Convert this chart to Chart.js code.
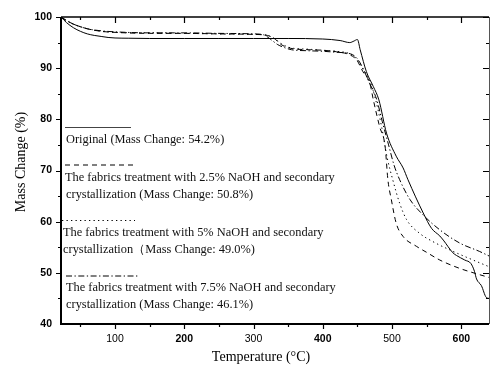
<!DOCTYPE html>
<html>
<head>
<meta charset="utf-8">
<script src="https://cdn.jsdelivr.net/npm/chart.js@4/dist/chart.umd.min.js"></script>
<style>
html,body{margin:0;padding:0;background:#fff;}
#wrap{width:490px;height:366px;position:relative;}
</style>
</head>
<body>
<div id="wrap"><canvas id="c" width="490" height="366"></canvas></div>
<script>
// ---- data (temperature in °C, mass in %) ----
const tOriginal = [22,30,40,50,60,70,80,90,100,120,150,200,250,300,350,400,425,439,445,450,454,463,473,481,492,506,516,523,545,557,569,574,588,593,605,614,619,622,629,636,640];
const mOriginal = [100,98.9,97.9,97.2,96.7,96.4,96.2,96.0,95.9,95.85,95.8,95.8,95.8,95.8,95.8,95.7,95.4,95.0,95.3,95.6,93.6,89.3,86.4,83.8,77.3,72.8,70.5,68.2,61.7,58.7,57.2,56.4,53.9,53.4,52.5,51.8,50.3,48.8,47.5,45.2,45.0];

const tNaOH25 = [22,30,40,50,60,80,100,150,200,250,300,320,330,340,353,380,400,420,439,449,458,468,473,482,490,494,499,506,516,535,550,569,597,620,640];
const mNaOH25 = [100,99.3,98.6,98.1,97.7,97.2,97.0,96.8,96.8,96.7,96.6,96.4,95.8,94.6,93.9,93.6,93.5,93.2,92.6,91.6,89.3,87.0,83.8,78.6,74.7,68.2,64.3,59.7,57.1,55.2,54.0,52.5,50.9,49.9,49.1];

const tNaOH5 = [22,30,40,50,60,80,100,150,200,250,300,320,330,340,353,380,400,420,439,449,458,468,476,485,493,501,511,521,540,559,588,617,640];
const mNaOH5 = [100,99.3,98.6,98.1,97.7,97.2,97.0,96.9,96.8,96.7,96.6,96.4,95.8,94.8,94.0,93.7,93.5,93.3,92.8,91.8,89.8,87.5,84.0,78.5,72.5,68.2,63.6,60.4,57.7,56.1,54.2,52.5,51.2];

const tNaOH75 = [22,30,40,50,60,80,100,150,200,250,300,315,325,335,345,355,380,400,420,440,449,458,466,478,486,495,503,511,526,545,569,598,626,640];
const mNaOH75 = [100,99.3,98.6,98.1,97.7,97.3,97.1,96.9,96.9,96.8,96.7,96.5,95.6,94.6,94.0,93.6,93.4,93.3,93.1,92.8,92.0,90.0,87.5,83.8,79.5,75.0,71.0,68.2,64.3,61.3,58.4,55.8,54.2,53.3];

const xTicks = [100,200,300,400,500,600];
const yTicks = [40,50,60,70,80,90,100];
const legendLines = [
  ["Original (Mass Change: 54.2%)"],
  ["The fabrics treatment with 2.5% NaOH and secondary", "crystallization (Mass Change: 50.8%)"],
  ["The fabrics treatment with 5% NaOH and secondary", "crystallization\uFF08Mass Change: 49.0%)"],
  ["The fabrics treatment with 7.5% NaOH and secondary", "crystallization (Mass Change: 46.1%)"]
];
const xTitle = "Temperature (\u00B0C)";
const yTitle = "Mass Change (%)";

// ---- build ----
const pts = (t, m) => t.map((v, i) => ({x: v, y: m[i]}));
const dashes = [[], [5,4], [1.3,3.2], [6,2.5,1.3,2.5]];
const series = [pts(tOriginal,mOriginal), pts(tNaOH25,mNaOH25), pts(tNaOH5,mNaOH5), pts(tNaOH75,mNaOH75)];

const datasets = series.map((d, i) => ({
  data: d, borderColor: '#000', borderWidth: 1, borderDash: dashes[i],
  pointRadius: 0, showLine: true, fill: false, tension: 0, cubicInterpolationMode: 'monotone'
}));

const frame = {
  id: 'frame',
  afterDraw(chart) {
    const ctx = chart.ctx, a = chart.chartArea;
    const xs = chart.scales.x, ys = chart.scales.y;
    ctx.save();
    ctx.strokeStyle = '#000';
    // axes lines
    ctx.lineWidth = 2;
    ctx.beginPath();
    ctx.moveTo(a.left, a.top); ctx.lineTo(a.left, a.bottom + 1); // left
    ctx.moveTo(a.left - 1, a.bottom); ctx.lineTo(a.right, a.bottom); // bottom
    ctx.stroke();
    ctx.lineWidth = 1.5;
    ctx.beginPath();
    ctx.moveTo(a.left, a.top); ctx.lineTo(a.right, a.top);
    ctx.stroke();
    ctx.lineWidth = 1;
    ctx.strokeStyle = '#555';
    ctx.beginPath();
    ctx.moveTo(a.right + 0.5, a.top); ctx.lineTo(a.right + 0.5, a.bottom);
    ctx.stroke();
    ctx.strokeStyle = '#000';
    ctx.lineWidth = 1.2;
    ctx.beginPath();
    // x ticks (major 100, minor 50)
    for (let v = 50; v <= 640; v += 50) {
      const px = Math.round(xs.getPixelForValue(v)) + 0.5;
      const major = v % 100 === 0;
      const L = major ? 5 : 3;
      ctx.moveTo(px, a.bottom); ctx.lineTo(px, a.bottom + L);
      ctx.moveTo(px, a.top); ctx.lineTo(px, a.top + (major ? 6 : 3));
    }
    for (let v = 45; v <= 100; v += 5) {
      const py = Math.round(ys.getPixelForValue(v)) + 0.5;
      const major = v % 10 === 0;
      const L = major ? 5 : 3;
      ctx.moveTo(a.left, py); ctx.lineTo(a.left - L, py);
      ctx.moveTo(a.right, py); ctx.lineTo(a.right - (major ? 6 : 3), py);
    }
    ctx.stroke();

    // axis titles
    ctx.fillStyle = '#000';
    ctx.font = '14px "Liberation Serif", "Times New Roman", serif';
    ctx.textAlign = 'center';
    ctx.textBaseline = 'middle';
    ctx.fillText(xTitle, 261, 357);
    ctx.save();
    ctx.translate(21, 162);
    ctx.rotate(-Math.PI / 2);
    ctx.fillText(yTitle, 0, 0);
    ctx.restore();

    // legend
    const samples = [
      {x0: 65, x1: 131, y: 127.5},
      {x0: 65, x1: 137, y: 165},
      {x0: 62, x1: 135, y: 220.5},
      {x0: 66, x1: 138, y: 276}
    ];
    const textPos = [
      [{x: 66, y: 140}],
      [{x: 65, y: 177.5}, {x: 66, y: 195}],
      [{x: 63, y: 233}, {x: 63, y: 250}],
      [{x: 66, y: 288}, {x: 66, y: 304.5}]
    ];
    samples.forEach((s, i) => {
      ctx.setLineDash(dashes[i]);
      ctx.lineWidth = 1;
      ctx.strokeStyle = i === 0 ? '#444' : '#000';
      ctx.beginPath();
      ctx.moveTo(s.x0, s.y); ctx.lineTo(s.x1, s.y);
      ctx.stroke();
    });
    ctx.setLineDash([]);
    ctx.font = '12.4px "Liberation Serif", "Times New Roman", serif';
    ctx.textAlign = 'left';
    ctx.fillStyle = '#111';
    legendLines.forEach((lines, i) => {
      lines.forEach((t, j) => ctx.fillText(t, textPos[i][j].x, textPos[i][j].y));
    });
    ctx.restore();
  }
};

new Chart(document.getElementById('c'), {
  type: 'scatter',
  data: { datasets },
  options: {
    responsive: false,
    animation: false,
    layout: { padding: { top: 17, right: 1, left: 0, bottom: 0 } },
    plugins: { legend: { display: false }, tooltip: { enabled: false } },
    scales: {
      x: {
        type: 'linear', min: 22, max: 640,
        afterFit: s => { s.height = 42; },
        afterBuildTicks: s => { s.ticks = xTicks.map(v => ({value: v})); },
        grid: { display: false, drawTicks: false },
        border: { display: false },
        ticks: {
          padding: 9, color: '#000', maxRotation: 0, autoSkip: false,
          font: c => ({ family: '"Liberation Sans", Arial, sans-serif', size: 10.5, weight: (c.tick && c.tick.value % 200 === 0) ? 'bold' : 'normal' })
        }
      },
      y: {
        type: 'linear', min: 40, max: 100,
        afterFit: s => { s.width = 61; },
        afterBuildTicks: s => { s.ticks = yTicks.map(v => ({value: v})); },
        grid: { display: false, drawTicks: false },
        border: { display: false },
        ticks: {
          padding: 9, color: '#000', autoSkip: false,
          font: { family: '"Liberation Sans", Arial, sans-serif', size: 10.5, weight: 'bold' }
        }
      }
    }
  },
  plugins: [frame]
});
</script>
</body>
</html>
